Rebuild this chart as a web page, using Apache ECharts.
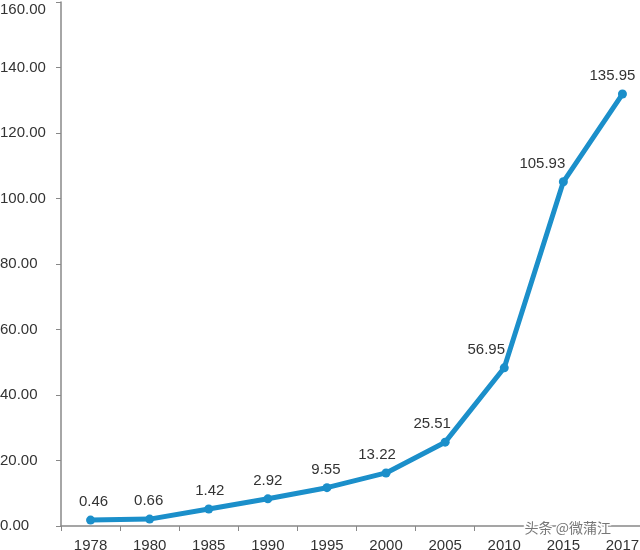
<!DOCTYPE html>
<html><head><meta charset="utf-8">
<script src="https://cdn.jsdelivr.net/npm/echarts@6/dist/echarts.min.js"></script>
<style>html,body{margin:0;padding:0;background:#fff}#c{width:640px;height:550px}</style>
</head><body><div id="c"></div>
<script>
const years = ['1978','1980','1985','1990','1995','2000','2005','2010','2015','2017'];
const plotted = [1.8, 2.1, 5.2, 8.3, 11.7, 16.2, 25.6, 48.3, 105.1, 131.9];
const labels = ['0.46','0.66','1.42','2.92','9.55','13.22','25.51','56.95','105.93','135.95'];
const labelShiftX = [3, -1, 1, 0, -1, -9, -13, -18, -21, -10];

const chart = echarts.init(document.getElementById('c'));
chart.setOption({
  animation: false,
  grid: { left: 61, right: -12, top: 2, bottom: 24, outerBoundsMode: 'none', containLabel: false },
  xAxis: {
    type: 'category', data: years, boundaryGap: true,
    axisLine: { lineStyle: { color: '#888', width: 1.5 } },
    axisTick: { show: true, length: 5, lineStyle: { color: '#888' } },
    axisLabel: { color: '#333', fontSize: 15, fontFamily: 'Liberation Sans, Arial', margin: 12 }
  },
  yAxis: {
    type: 'value', min: 0, max: 160, interval: 20,
    splitLine: { show: false },
    axisLine: { show: true, lineStyle: { color: '#888', width: 1.5 } },
    axisTick: { show: true, length: 5, lineStyle: { color: '#888' } },
    axisLabel: { color: '#333', fontSize: 15, fontFamily: 'Liberation Sans, Arial', align: 'left', margin: 61,
      verticalAlignMaxLabel: 'top',
      formatter: v => v.toFixed(2) }
  },
  series: [{
    type: 'line',
    data: plotted.map((v, i) => ({
      value: v,
      label: { offset: [labelShiftX[i], 0] }
    })),
    symbol: 'circle', symbolSize: 9,
    lineStyle: { color: '#1b8fca', width: 5 },
    itemStyle: { color: '#1b8fca' },
    label: {
      show: true, position: 'top', distance: 6,
      color: '#333', fontSize: 15, fontFamily: 'Liberation Sans, Arial',
      formatter: p => labels[p.dataIndex]
    }
  }],
  graphic: [{
    type: 'text', left: 523, top: 519, z: 100,
    style: { text: '头条 @微蒲江', fill: '#777', fontSize: 14, fontFamily: 'Noto Sans CJK SC',
      stroke: '#fff', lineWidth: 3 }
  }]
});
</script></body></html>
